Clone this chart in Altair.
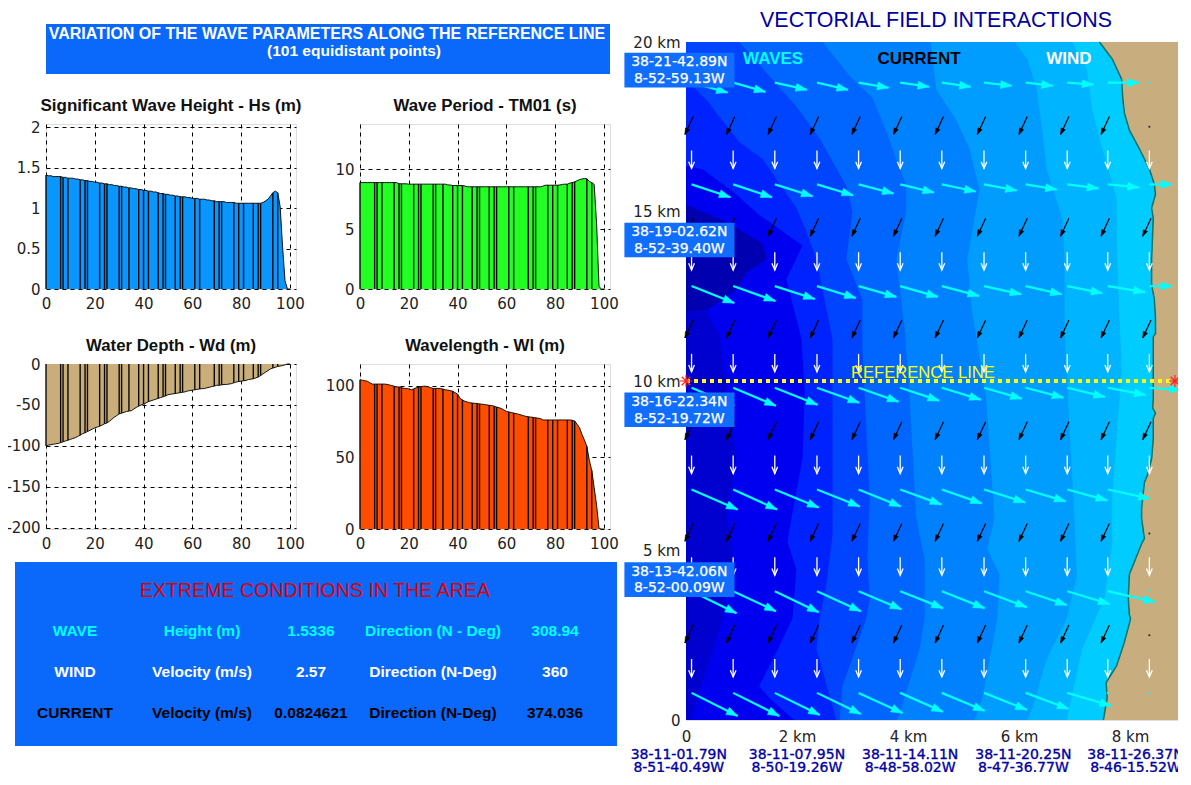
import math
import altair as alt
import pandas as pd

# ---------- profiles along the reference line (101 points) ----------
HS = [1.41,1.40,1.40,1.39,1.39,1.39,1.39,1.38,1.38,1.37,
      1.37,1.37,1.36,1.36,1.35,1.35,1.34,1.34,1.33,1.33,
      1.32,1.32,1.31,1.31,1.30,1.30,1.29,1.29,1.28,1.28,
      1.27,1.27,1.26,1.26,1.25,1.25,1.24,1.24,1.23,1.23,
      1.22,1.22,1.21,1.21,1.20,1.20,1.19,1.18,1.18,1.17,
      1.17,1.16,1.16,1.15,1.15,1.14,1.14,1.14,1.13,1.13,
      1.12,1.12,1.12,1.11,1.11,1.11,1.10,1.10,1.09,1.09,
      1.08,1.08,1.08,1.08,1.07,1.07,1.07,1.07,1.06,1.06,
      1.06,1.06,1.06,1.06,1.06,1.06,1.06,1.06,1.06,1.07,
      1.09,1.11,1.15,1.19,1.21,1.19,1.02,0.52,0.10,0,0]
TM = [8.9,8.9,8.9,8.9,8.9,8.9,8.9,8.9,8.9,8.9,
      8.9,8.9,8.9,8.9,8.9,8.9,8.8,8.8,8.8,8.8,
      8.77,8.77,8.77,8.77,8.77,8.77,8.77,8.77,8.77,8.77,
      8.77,8.77,8.77,8.77,8.77,8.77,8.7,8.7,8.65,8.65,
      8.65,8.65,8.65,8.62,8.55,8.55,8.55,8.55,8.55,8.55,
      8.55,8.55,8.55,8.55,8.55,8.55,8.55,8.55,8.55,8.55,
      8.55,8.55,8.55,8.55,8.55,8.55,8.55,8.55,8.55,8.55,
      8.55,8.55,8.55,8.55,8.55,8.6,8.68,8.68,8.68,8.68,
      8.68,8.68,8.7,8.75,8.77,8.77,8.85,8.9,8.96,9.05,
      9.15,9.2,9.24,9.22,9.0,8.9,8.75,5.5,0.2,0,0]
WD = [-100,-99,-98.5,-98,-97.5,-97,-96,-95,-94,-93,
      -92,-91,-90,-88.5,-87,-85,-84,-82.5,-81,-79.5,
      -78,-77,-76,-74.5,-73,-72,-70,-67.5,-65,-63,
      -61,-60,-59,-58,-57.5,-57,-55,-53,-51.5,-50,
      -49,-47.5,-46,-45,-44,-43,-42,-41,-40,-39,
      -37.5,-37,-36.5,-36,-35.5,-35,-34.5,-34,-33,-32.5,
      -32,-31.5,-31,-30.5,-30,-30,-29,-28.5,-27.5,-27,
      -26,-26,-25.5,-25,-25,-24.5,-24,-23,-22,-21.5,
      -21,-20.5,-20,-19,-18.5,-18,-17,-16,-14,-12,
      -10,-8,-6,-5,-4,-3,-2.5,-2,-1,0,0]
WL = [104,103.7,103.3,103,102,101,101,101,101,101,
      101,100.8,100.4,100,99.5,99,99,98.6,98,98,
      97.6,97,97.6,98.4,99,99.2,99.5,99.5,99,98.5,
      98,98,98,98,97.5,97,96.8,96.4,96,95,
      94,91,90,89,88.5,88,87.8,87.6,87.5,87.2,
      87,86.8,86.5,86.2,86,85.6,85,84.5,84,83,
      82,81.6,81.2,80.8,80.4,80,79.5,79,78.5,78.2,
      78,77.8,77.5,77.2,77,76,76,76,76,76,
      76,76,76,76,76,76,76,75.8,75.3,73,
      70.6,66,62,57.6,48,41,29,16.5,0.5,0,0]
STRIPES = [6,7,9,14,16,17,22,24,25,30,31,34,38,40,42,46,48,49,53,55,56,
           61,63,69,71,72,77,79,81,85,87,88,93,95]

# ---------- vectorial field: depth bands, each as (y km, x km) ----------
COAST_Y = [20,19.5,18.9,18.35,17.9,17.4,16.85,16.25,15.8,15.5,15.1,14.8,13.6,
           12.85,12.4,11.85,11.4,11.3,9.5,9.2,9.05,8.9,8.3,7.7,7.25,7,6.7,6.25,
           5.95,5.35,5.2,4.75,4.3,3.6,3.1,3,2.85,2.3,1.6,1.1,0.65,0]
COAST_X = [7.45,7.68,7.85,7.87,7.9,7.99,8.17,8.35,8.44,8.46,8.39,8.42,8.39,
           8.39,8.44,8.46,8.46,8.42,8.42,8.41,8.46,8.42,8.42,8.39,8.32,8.26,8.24,8.21,
           8.21,8.26,8.21,8.1,7.99,7.97,7.99,8.01,7.99,7.9,7.76,7.57,7.59,7.52]
BANDS = [
 ("#00b4ff", [20,19.2,18,16.85,15.4,13.6,10.35,6.55,5.2,3.6,2.1,0],
             [6.96,7.22,7.32,7.5,7.76,7.77,7.85,7.68,7.68,7.54,7.14,6.86]),
 ("#009dff", [20,19.5,18.6,17.4,16.25,14.8,13.6,11.4,5.95,4.2,3,1.8,0.35,0],
             [5.92,6.15,6.32,6.42,6.5,6.78,6.82,6.82,7,7.04,6.86,6.5,6.24,6.15]),
 ("#0082ff", [20,18.6,17.7,16.85,15.65,13.6,12.1,9.5,5.95,5.05,4.3,3,0.65,0],
             [4.41,4.51,4.87,5.11,5.29,5.07,5.15,5.41,5.56,5.43,5.65,5.61,5.34,5.2]),
 ("#0066ff", [20,19,18.35,17.35,15.75,15,13.6,11.55,9.5,5.95,4.75,3,2.1,0.2,0],
             [2.46,2.95,3.36,3.61,3.97,3.97,3.79,3.94,4.03,4.15,4.3,4.3,4.21,3.85,3.79]),
 ("#0044ff", [20,19,18.1,17.15,15.75,15,13.6,12.4,10.95,6.55,4.75,3.6,3,1,0],
             [0.96,1.5,1.99,2.41,2.89,3,2.89,3.18,3.18,3.31,3.27,3.31,3.25,2.82,2.77]),
 ("#0022ff", [18.9,18.2,17.9,17.05,16.55,15.95,15.1,14.4,13.6,11.25,8,5.45,4,3,2.1,0],
             [0,0.42,0.55,0.96,1.38,1.63,1.99,2.17,2.35,2.64,2.64,2.64,2.53,2.41,2.35,2.71]),
 ("#0000f0", [16.35,16.25,15.6,14.9,14,13,11.25,9.7,7.7,6.75,5.95,5.25,4.45,3,2,1,0.65,0],
             [0,0.3,0.84,1.32,2.1,1.81,2.08,2.14,2.1,1.99,1.9,1.83,1.99,1.92,1.63,1.32,1.5,1.95]),
 ("#0000cf", [15.2,14.65,14.05,13.6,13.2,12.7,12.05,11.35,8.5,7.7,5.95,5,3,2,0.85,0],
             [0,0.78,1.38,1.45,1.09,0.91,0.37,0.6,0.84,0.91,0.73,0.84,0.66,0.48,0.24,0.1]),
 ("#0000b0", [15.2,14.65,14.05,13.6,13.2,12.7,12.1,12.05],
             [0,0.78,1.38,1.45,1.09,0.91,0.37,0]),
]

# ---------- vector grids (km) ----------
COLS = [0.1,0.85,1.6,2.36,3.11,3.86,4.61,5.37,6.12,6.87,7.6,8.35]
WAVE_ROWS = [18.8,15.8,12.8,9.8,6.8,3.8,0.8]
WAVE_DX = [[0.65,0.58,0.58,0.56,0.54,0.52,0.52,0.50,0.49,0.47,0.56,0],
           [0.70,0.70,0.68,0.65,0.63,0.61,0.61,0.59,0.56,0.56,0.56,0.41],
           [0.77,0.76,0.72,0.70,0.68,0.68,0.67,0.67,0.65,0.63,0.67,0.41],
           [0.77,0.77,0.77,0.76,0.72,0.70,0.70,0.68,0.68,0.68,0.68,0.56],
           [0.83,0.79,0.79,0.77,0.76,0.74,0.72,0.74,0.72,0.72,0.76,0],
           [0.81,0.77,0.79,0.79,0.77,0.77,0.77,0.77,0.74,0.76,0.85,0],
           [0.83,0.83,0.81,0.79,0.79,0.77,0.77,0.77,0.77,0.79,0,0]]
WAVE_DY = [[0.29,0.27,0.21,0.21,0.15,0.12,0.12,0.09,0.09,0.06,0,0],
           [0.38,0.38,0.35,0.32,0.27,0.24,0.21,0.18,0.15,0.12,0.09,0],
           [0.50,0.44,0.38,0.35,0.32,0.32,0.29,0.24,0.24,0.21,0.18,0],
           [0.53,0.53,0.50,0.44,0.41,0.38,0.35,0.32,0.29,0.27,0.21,0.06],
           [0.59,0.59,0.53,0.50,0.50,0.44,0.41,0.38,0.35,0.32,0.27,0],
           [0.65,0.59,0.62,0.59,0.53,0.50,0.50,0.47,0.41,0.38,0.32,0],
           [0.68,0.68,0.65,0.62,0.59,0.56,0.53,0.50,0.47,0.38,0,0]]
CURRENT_ROWS = [17.8,14.8,11.8,8.8,5.8,2.8]
WIND_ROWS = [16.8,13.8,10.8,7.8,4.8,1.8]
CURRENT_DX, CURRENT_DY = 0.15, 0.53
WIND_DY = 0.53
CURRENT_LAND = [(17.8, 8.35), (5.8, 8.35), (2.8, 8.35)]

SIDE_LABELS = [(19.41, "38-21-42.89N", "8-52-59.13W"), (14.4, "38-19-02.62N", "8-52-39.40W"),
               (9.39, "38-16-22.34N", "8-52-19.72W"), (4.38, "38-13-42.06N", "8-52-00.09W")]
BOTTOM_LABELS = [(-0.13, "38-11-01.79N", "8-51-40.49W"), (2.0, "38-11-07.95N", "8-50-19.26W"),
                 (4.04, "38-11-14.11N", "8-48-58.02W"), (6.08, "38-11-20.25N", "8-47-36.77W"),
                 (8.1, "38-11-26.37N", "8-46-15.52W")]
EXTREME = [("WAVE", "Height (m)", "1.5336", "Direction (N - Deg)", "308.94", "#00ffff"),
           ("WIND", "Velocity (m/s)", "2.57", "Direction (N-Deg)", "360", "#ffffff"),
           ("CURRENT", "Velocity (m/s)", "0.0824621", "Direction (N-Deg)", "374.036", "#000000")]

SANS = "Liberation Sans"
DEJA = "DejaVu Sans"
PW, PH = 250, 165
MAP_W, MAP_H = 500, 678
X_MAX, Y_MAX = 9.01, 20.0
KX, KY = MAP_W / X_MAX, MAP_H / Y_MAX

profile = pd.DataFrame({"i": range(101), "hs": HS, "tm": TM, "wd": WD, "wl": WL})
profile["zero"] = 0
stripes = profile[profile.i.isin(STRIPES + [0])]


def panel(field, title, color, domain, yticks, title_size, title_offset):
    x = alt.X("i:Q", scale=alt.Scale(domain=[0, 102.5], nice=False, zero=False),
              axis=alt.Axis(values=[0, 20, 40, 60, 80, 100], title=None, grid=True, gridColor="#000",
                            gridDash=[4, 4], gridWidth=1, gridOpacity=1, ticks=False, domain=False,
                            labelFont=DEJA, labelFontSize=15, labelColor="#222", labelPadding=7,
                            labelFlush=False, labelOverlap=False))
    y = alt.Y(f"{field}:Q", scale=alt.Scale(domain=domain, nice=False),
              axis=alt.Axis(values=yticks, title=None, grid=True, gridColor="#000",
                            gridDash=[4, 4], gridWidth=1, gridOpacity=1, ticks=False, domain=False,
                            labelFont=DEJA, labelFontSize=15, labelColor="#222", labelPadding=6,
                            labelFlush=False, labelOverlap=False, labelExpr="'' + datum.value"))
    area = alt.Chart(profile).mark_area(color=color, opacity=1).encode(x=x, y=y)
    line = alt.Chart(profile).mark_line(color="#111", strokeWidth=1).encode(x=x, y=y)
    rule = alt.Chart(stripes).mark_rule(color="#0a0a0a", strokeWidth=1.4).encode(x=x, y=y, y2="zero:Q")
    return alt.layer(area, rule, line).properties(
        width=PW, height=PH,
        title=alt.TitleParams(title, font=SANS, fontSize=title_size, fontWeight="bold", color="#111",
                              anchor="middle", offset=title_offset))


hs_chart = panel("hs", "Significant Wave Height - Hs (m)", "#0a96ff", [0, 2.04], [0, 0.5, 1, 1.5, 2], 17, 5)
tm_chart = panel("tm", "Wave Period - TM01 (s)", "#22ff22", [0, 13.8], [0, 5, 10], 16.8, 9)
wd_chart = panel("wd", "Water Depth - Wd (m)", "#c9ae7a", [-201.5, 0], [-200, -150, -100, -50, 0], 16.8, 2)
wl_chart = panel("wl", "Wavelength - Wl (m)", "#ff4d00", [0, 115], [0, 50, 100], 16.8, 9)

# ---------- banner ----------
banner_df = pd.DataFrame({
    "text": ["VARIATION OF THE WAVE PARAMETERS ALONG THE REFERENCE LINE", "(101 equidistant points)"],
    "px": [281, 308], "py": [10, 27], "size": [16, 15.5]})
banner = alt.layer(
    alt.Chart(banner_df).mark_rect(color="#0a68fa").encode(
        x=alt.value(0), x2=alt.value(564), y=alt.value(0), y2=alt.value(50)),
    alt.Chart(banner_df).mark_text(font=SANS, fontWeight="bold", color="white", baseline="middle").encode(
        x=alt.X("px:Q", scale=None), y=alt.Y("py:Q", scale=None),
        text="text:N", size=alt.Size("size:Q", scale=None)),
).properties(width=564, height=50, view=alt.ViewBackground(stroke="transparent"))

# ---------- extreme conditions box ----------
COLX = [29, 156, 265, 387, 509]
rows = []
for rix, row in enumerate(EXTREME):
    for cix, cx in enumerate(COLX):
        rows.append({"text": row[cix], "px": cx, "py": [69, 110, 151][rix], "col": row[5]})
extreme_df = pd.DataFrame(rows)
head_df = pd.DataFrame({"text": ["EXTREME CONDITIONS IN THE AREA"], "px": [269], "py": [29]})
box = alt.layer(
    alt.Chart(head_df).mark_rect(color="#0a68fa").encode(
        x=alt.value(-31), x2=alt.value(571), y=alt.value(0), y2=alt.value(184)),
    alt.Chart(head_df).mark_text(font=SANS, fontSize=19.6, color="#e00000", baseline="middle").encode(
        x=alt.X("px:Q", scale=None), y=alt.Y("py:Q", scale=None), text="text:N"),
    alt.Chart(extreme_df).mark_text(font=SANS, fontSize=15.5, fontWeight="bold", baseline="middle").encode(
        x=alt.X("px:Q", scale=None), y=alt.Y("py:Q", scale=None), text="text:N",
        color=alt.Color("col:N", scale=None)),
).properties(width=564, height=184, view=alt.ViewBackground(stroke="transparent"))

# ---------- map ----------
MX_SCALE = alt.Scale(domain=[0, X_MAX], nice=False, zero=False)
MY_SCALE = alt.Scale(domain=[0, Y_MAX], nice=False, zero=False)
MX_AXIS = alt.Axis(values=[0, 2, 4, 6, 8], title=None, grid=False, ticks=False, domain=False,
                   labelFont=DEJA, labelFontSize=15, labelColor="#222", labelPadding=9,
                   labelFlush=False, labelOverlap=False,
                   labelExpr="datum.value == 0 ? '0' : datum.value + ' km'")
MY_AXIS = alt.Axis(values=[0, 5, 10, 15, 20], title=None, grid=False, ticks=False, domain=False,
                   labelFont=DEJA, labelFontSize=15, labelColor="#222", labelPadding=6,
                   labelFlush=False, labelOverlap=False,
                   labelExpr="datum.value == 0 ? '0' : datum.value + ' km'")
mx = alt.X("x:Q", scale=MX_SCALE, axis=MX_AXIS)
my = alt.Y("y:Q", scale=MY_SCALE, axis=MY_AXIS)
land_df = pd.DataFrame({"x": [0], "x2": [X_MAX], "y": [0], "y2": [Y_MAX]})
map_layers = [alt.Chart(land_df).mark_rect(color="#c8ad7f").encode(x=mx, x2="x2:Q", y=my, y2="y2:Q")]


def band_layer(color, ys, xs):
    df = pd.DataFrame({"x": xs, "y": ys})
    return alt.Chart(df).mark_area(orient="horizontal", color=color, opacity=1).encode(
        x=alt.X("x:Q", stack=None, scale=MX_SCALE, axis=MX_AXIS), y=my)


map_layers.append(band_layer("#00ccff", COAST_Y, COAST_X))
for col, ys, xs in BANDS:
    map_layers.append(band_layer(col, ys, xs))

coast_df = pd.DataFrame({"x": COAST_X, "y": COAST_Y, "k": range(len(COAST_X))})
map_layers.append(alt.Chart(coast_df).mark_line(color="#08705f", strokeWidth=1.5).encode(
    x=mx, y=my, order="k:Q"))

HEAD_SOLID = "M0,0L-0.36,1L0.36,1Z"
HEAD_V = "M-0.36,0.85L0,0L0.36,0.85"


def arrows(items):
    df = pd.DataFrame(items, columns=["x", "y", "x2", "y2"])
    df["angle"] = [math.degrees(math.atan2((b - a) * KX, (d - c) * KY))
                   for a, c, b, d in zip(df.x, df.y, df.x2, df.y2)]
    df["hx"] = df.x2
    df["hy"] = df.y2
    return df


wind_items = [(c, r, c, r - WIND_DY) for r in WIND_ROWS for c in COLS]
current_items = [(c + 0.03, r, c + 0.03 - CURRENT_DX, r - CURRENT_DY) for r in CURRENT_ROWS for c in COLS
                 if (r, c) not in CURRENT_LAND]
wave_items, wave_dots = [], []
for r, dxs, dys in zip(WAVE_ROWS, WAVE_DX, WAVE_DY):
    for c, dx, dy in zip(COLS, dxs, dys):
        if dx > 0:
            wave_items.append((c, r, c + dx, r - dy))
        else:
            wave_dots.append((c, r))


def arrow_layers(items, color, width, head, hsize, filled):
    df = arrows(items)
    shaft = alt.Chart(df).mark_rule(color=color, strokeWidth=width).encode(x=mx, x2="x2:Q", y=my, y2="y2:Q")
    if filled:
        mark = alt.Chart(df).mark_point(shape=head, filled=True, fill=color, stroke=color, strokeWidth=0.5,
                                        opacity=1, size=hsize)
    else:
        mark = alt.Chart(df).mark_point(shape=head, filled=False, stroke=color, strokeWidth=1.3,
                                        opacity=1, size=hsize)
    tip = mark.encode(x=alt.X("hx:Q", scale=MX_SCALE, axis=MX_AXIS),
                      y=alt.Y("hy:Q", scale=MY_SCALE, axis=MY_AXIS),
                      angle=alt.Angle("angle:Q", scale=None))
    return [shaft, tip]


map_layers += arrow_layers(current_items, "#000000", 1.2, HEAD_SOLID, 160, True)
map_layers += arrow_layers(wind_items, "#ffffff", 1.3, HEAD_V, 256, False)
map_layers += arrow_layers(wave_items, "#00ffff", 2.2, HEAD_SOLID, 500, True)

dots_df = pd.DataFrame(wave_dots, columns=["x", "y"])
map_layers.append(alt.Chart(dots_df).mark_point(filled=True, color="#00ffff", size=5, opacity=1).encode(x=mx, y=my))
land_cur = pd.DataFrame([(c, r - 0.3) for r, c in CURRENT_LAND], columns=["x", "y"])
map_layers.append(alt.Chart(land_cur).mark_point(filled=True, color="#222", size=4, opacity=1).encode(x=mx, y=my))

# reference line
ref_df = pd.DataFrame({"x": [0.0, 8.81], "y": [10.0, 10.0]})
map_layers.append(alt.Chart(ref_df).mark_line(color="#ffff00", strokeWidth=4, strokeDash=[4, 4]).encode(x=mx, y=my))
STAR = "M-1,0L1,0M0,-1L0,1M-0.7,-0.7L0.7,0.7M-0.7,0.7L0.7,-0.7"
map_layers.append(alt.Chart(ref_df).mark_point(shape=STAR, stroke="#ff2020", strokeWidth=1.2, filled=False,
                                               size=150, opacity=1).encode(x=mx, y=my))
ref_txt = pd.DataFrame({"x": [4.27], "y": [10.25], "t": ["REFERENCE LINE"]})
map_layers.append(alt.Chart(ref_txt).mark_text(font=SANS, fontSize=16.6, color="#ffff00", baseline="middle").encode(
    x=mx, y=my, text="t:N"))

# header words
hdr = pd.DataFrame({"x": [1.57, 4.2, 6.9], "y": [19.5, 19.5, 19.5],
                    "t": ["WAVES", "CURRENT", "WIND"], "c": ["#00ffff", "#000000", "#ffffff"]})
map_layers.append(alt.Chart(hdr).mark_text(font=SANS, fontSize=17, fontWeight="bold", baseline="middle").encode(
    x=mx, y=my, text="t:N", color=alt.Color("c:N", scale=None)))

# coordinate boxes
boxes = pd.DataFrame([{"x": -1.11, "x2": 0.874, "y": v - 0.75, "y2": v + 0.27} for v, _, _ in SIDE_LABELS])
map_layers.append(alt.Chart(boxes).mark_rect(color="#0f6eff").encode(x=mx, x2="x2:Q", y=my, y2="y2:Q"))
side_txt = pd.DataFrame([{"x": -0.12, "y": v + d, "t": s}
                         for v, a, b in SIDE_LABELS for d, s in ((0, a), (-0.5, b))])
map_layers.append(alt.Chart(side_txt).mark_text(font=DEJA, fontSize=14, color="white", stroke="white",
                                                strokeWidth=0.25, baseline="middle").encode(
    x=mx, y=my, text="t:N"))
bot_txt = pd.DataFrame([{"x": x0, "y": d, "t": s}
                        for x0, a, b in BOTTOM_LABELS for d, s in ((-1.02, a), (-1.43, b))])
map_layers.append(alt.Chart(bot_txt).mark_text(font=DEJA, fontSize=14, color="#0000a0", stroke="#0000a0",
                                               strokeWidth=0.35, baseline="middle").encode(
    x=mx, y=my, text="t:N"))

map_chart = alt.layer(*map_layers).properties(
    width=MAP_W, height=MAP_H,
    title=alt.TitleParams("VECTORIAL FIELD INTERACTIONS", font=SANS, fontSize=21.4, color="#0000a0",
                          fontWeight="normal", anchor="middle", offset=4))

spacer = alt.Chart(land_df).mark_rule(opacity=0).encode(x=alt.value(0)).properties(
    width=1, height=1, view=alt.ViewBackground(stroke="transparent"))

# ---------- layout ----------
row1 = alt.hconcat(hs_chart, tm_chart, spacing=64, bounds="flush")
row2 = alt.hconcat(wd_chart, wl_chart, spacing=64, bounds="flush")
upper = alt.vconcat(banner, row1, spacing=50, bounds="flush")
lower = alt.vconcat(row2, box, spacing=198, bounds="flush")
left = alt.vconcat(upper, lower, spacing=340, bounds="flush")
right = alt.vconcat(spacer, map_chart, spacing=17, bounds="flush")
chart = alt.hconcat(left, right, spacing=640, bounds="flush").properties(
    padding={"left": -3, "top": 1, "right": -9, "bottom": -4}
).configure_view(stroke="#111", strokeWidth=1.5, fill="white").configure(background="white")

chart.save("out.html", embed_options={"renderer": "svg", "actions": False})
